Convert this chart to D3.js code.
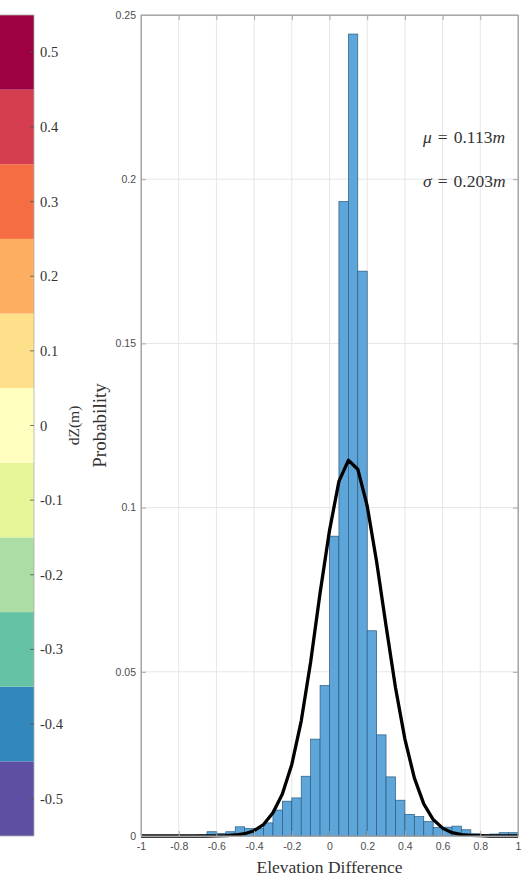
<!DOCTYPE html>
<html>
<head>
<meta charset="utf-8">
<script src="https://cdn.jsdelivr.net/npm/d3@7.9.0/dist/d3.min.js"></script>
<style>
  body { margin: 0; background: #fff; }
  svg { display: block; }
  .tick text { font-family: "Liberation Sans", Arial, sans-serif; font-size: 10.5px; fill: #4d4d4d; }
  .serif { font-family: "Liberation Serif", "DejaVu Serif", serif; fill: #333; }
</style>
</head>
<body>
<svg id="chart" width="526" height="879"></svg>
<script>
// histogram: left edge of each 0.05-wide bin and its probability
const binStart = [-1, -0.95, -0.9, -0.85, -0.8, -0.75, -0.7, -0.65, -0.6, -0.55,
                  -0.5, -0.45, -0.4, -0.35, -0.3, -0.25, -0.2, -0.15, -0.1, -0.05,
                  0, 0.05, 0.1, 0.15, 0.2, 0.25, 0.3, 0.35, 0.4, 0.45,
                  0.5, 0.55, 0.6, 0.65, 0.7, 0.75, 0.8, 0.85, 0.9, 0.95];
const binProb = [0, 0, 0, 0, 0, 0, 0.0003, 0.0013, 0.0008, 0.0013,
                 0.0028, 0.0023, 0.0023, 0.0040, 0.0079, 0.0106, 0.0116, 0.0182, 0.0295, 0.0458,
                 0.0913, 0.1932, 0.2442, 0.1720, 0.0625, 0.0308, 0.0180, 0.0109, 0.0066, 0.0059,
                 0.0044, 0.0026, 0.0027, 0.0030, 0.0019, 0.0007, 0.0003, 0.0006, 0.0010, 0.0010];
const binWidth = 0.05;

// fitted curve
const curveX = [-1, -0.95, -0.9, -0.85, -0.8, -0.75, -0.7, -0.65, -0.6, -0.55,
                -0.5, -0.45, -0.4, -0.35, -0.3, -0.25, -0.2, -0.15, -0.1, -0.05,
                0, 0.05, 0.1, 0.15, 0.2, 0.25, 0.3, 0.35, 0.4, 0.45,
                0.5, 0.55, 0.6, 0.65, 0.7, 0.75, 0.8, 0.85, 0.9, 0.95, 1];
const curveY = [0, 0, 0, 0, 0, 0, 0, 0, 0.00004, 0.0001,
                0.0003, 0.0007, 0.0016, 0.0035, 0.0071, 0.0128, 0.0218, 0.0350, 0.0530, 0.0740,
                0.0930, 0.1080, 0.1144, 0.1117, 0.1005, 0.0835, 0.0640, 0.0452, 0.0295, 0.0177,
                0.0098, 0.0050, 0.0024, 0.0010, 0.0004, 0.0002, 0.0001, 0, 0, 0, 0];

const xTicks = [-1, -0.8, -0.6, -0.4, -0.2, 0, 0.2, 0.4, 0.6, 0.8, 1];
const xTickLabels = ["-1", "-0.8", "-0.6", "-0.4", "-0.2", "0", "0.2", "0.4", "0.6", "0.8", "1"];
const yTicks = [0, 0.05, 0.1, 0.15, 0.2, 0.25];
const yTickLabels = ["0", "0.05", "0.1", "0.15", "0.2", "0.25"];

// colorbar
const cbTicks = [-0.5, -0.4, -0.3, -0.2, -0.1, 0, 0.1, 0.2, 0.3, 0.4, 0.5];
const cbTickLabels = ["-0.5", "-0.4", "-0.3", "-0.2", "-0.1", "0", "0.1", "0.2", "0.3", "0.4", "0.5"];

const muText = "0.113";
const sigmaText = "0.203";

const svg = d3.select("#chart");
const pLeft = 141, pRight = 518, pTop = 15, pBottom = 836;

const x = d3.scaleLinear().domain([-1, 1]).range([pLeft, pRight]);
const y = d3.scaleLinear().domain([0, 0.25]).range([pBottom, pTop]);

// --- colorbar ---
const cb = d3.scaleLinear().domain([-0.55, 0.55]).range([pBottom, pTop]);
const cbColors = d3.schemeSpectral[11].slice().reverse(); // purple at bottom
const cbX0 = -2, cbX1 = 34;

svg.append("g").selectAll("rect")
    .data(cbTicks)
    .join("rect")
    .attr("x", cbX0)
    .attr("width", cbX1 - cbX0)
    .attr("y", d => cb(d + 0.05))
    .attr("height", d => cb(d - 0.05) - cb(d + 0.05))
    .attr("fill", (d, i) => cbColors[i]);

svg.append("rect")
    .attr("x", cbX0).attr("y", pTop)
    .attr("width", cbX1 - cbX0).attr("height", pBottom - pTop)
    .attr("fill", "none").attr("stroke", "#b0b0b0").attr("stroke-width", 0.8);

const cbG = svg.append("g");
cbTicks.forEach((t, i) => {
    cbG.append("line")
        .attr("x1", cbX1 - 4).attr("x2", cbX1)
        .attr("y1", cb(t)).attr("y2", cb(t))
        .attr("stroke", "#555").attr("stroke-width", 0.8);
    cbG.append("text")
        .attr("class", "serif")
        .attr("x", 40)
        .attr("y", cb(t))
        .attr("dy", "0.35em")
        .style("font-size", "14.5px")
        .text(cbTickLabels[i]);
});

svg.append("text")
    .attr("class", "serif")
    .attr("transform", `translate(79, ${(pTop + pBottom) / 2}) rotate(-90)`)
    .attr("text-anchor", "middle")
    .style("font-size", "15.5px")
    .text("dZ(m)");

// --- grid ---
const grid = svg.append("g");
grid.selectAll(".gx")
    .data(xTicks)
    .join("line")
    .attr("x1", d => x(d)).attr("x2", d => x(d))
    .attr("y1", pTop).attr("y2", pBottom)
    .attr("stroke", "#e6e6e6").attr("stroke-width", 1);
grid.selectAll(".gy")
    .data(yTicks)
    .join("line")
    .attr("y1", d => y(d)).attr("y2", d => y(d))
    .attr("x1", pLeft).attr("x2", pRight)
    .attr("stroke", "#e6e6e6").attr("stroke-width", 1);

// --- bars ---
svg.append("g").selectAll("rect")
    .data(binStart.map((s, i) => ({ s, p: binProb[i] })).filter(d => d.p > 0))
    .join("rect")
    .attr("x", d => x(d.s))
    .attr("width", d => x(d.s + binWidth) - x(d.s))
    .attr("y", d => y(d.p))
    .attr("height", d => y(0) - y(d.p))
    .attr("fill", "#5ea6d9")
    .attr("stroke", "#2b5a80")
    .attr("stroke-width", 0.7);

// --- curve ---
const line = d3.line()
    .x((d, i) => x(curveX[i]))
    .y(d => y(d));

svg.append("path")
    .datum(curveY)
    .attr("d", line)
    .attr("fill", "none")
    .attr("stroke", "#000")
    .attr("stroke-width", 3.3)
    .attr("stroke-linejoin", "round");

// --- axes ---
const axisColor = "#a8a8a8";

svg.append("g")
    .attr("transform", `translate(${pLeft},0)`)
    .call(d3.axisLeft(y).tickValues(yTicks)
        .tickFormat((d, i) => yTickLabels[i])
        .tickSizeInner(-5).tickSizeOuter(0).tickPadding(5));

svg.append("g")
    .attr("transform", `translate(0,${pBottom})`)
    .call(d3.axisBottom(x).tickValues(xTicks)
        .tickFormat((d, i) => xTickLabels[i])
        .tickSizeInner(-5).tickSizeOuter(0).tickPadding(7));

svg.append("g")
    .attr("transform", `translate(${pRight},0)`)
    .call(d3.axisRight(y).tickValues(yTicks).tickFormat("")
        .tickSizeInner(-5).tickSizeOuter(0));

svg.append("g")
    .attr("transform", `translate(0,${pTop})`)
    .call(d3.axisTop(x).tickValues(xTicks).tickFormat("")
        .tickSizeInner(-5).tickSizeOuter(0));

svg.selectAll(".domain").attr("stroke", axisColor);
svg.selectAll(".tick line").attr("stroke", axisColor);

svg.append("rect")
    .attr("x", pLeft).attr("y", pTop)
    .attr("width", pRight - pLeft).attr("height", pBottom - pTop)
    .attr("fill", "none").attr("stroke", axisColor).attr("stroke-width", 1);

// --- labels ---
svg.append("text")
    .attr("class", "serif")
    .attr("x", (pLeft + pRight) / 2)
    .attr("y", 873)
    .attr("text-anchor", "middle")
    .style("font-size", "17.5px")
    .text("Elevation Difference");

svg.append("text")
    .attr("class", "serif")
    .attr("transform", `translate(106, ${(pTop + pBottom) / 2}) rotate(-90)`)
    .attr("text-anchor", "middle")
    .style("font-size", "19px")
    .text("Probability");

function statLabel(sym, val, yPos) {
    const t = svg.append("text")
        .attr("class", "serif")
        .attr("x", 423)
        .attr("y", yPos)
        .style("font-size", "17.5px")
        .attr("fill", "#222");
    t.append("tspan").style("font-style", "italic").text(sym);
    t.append("tspan").attr("dx", 6).text("=");
    t.append("tspan").attr("dx", 6).text(val);
    t.append("tspan").style("font-style", "italic").text("m");
}
statLabel("\u03bc", muText, 143);
statLabel("\u03c3", sigmaText, 187);
</script>
</body>
</html>
